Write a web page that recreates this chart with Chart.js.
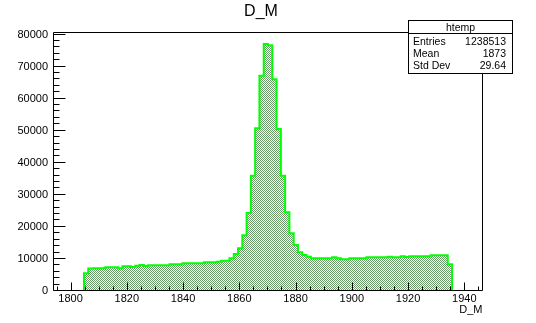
<!DOCTYPE html>
<html>
<head>
<meta charset="utf-8">
<script src="https://cdn.jsdelivr.net/npm/chart.js@4/dist/chart.umd.min.js"></script>
<style>
    html, body { margin: 0; padding: 0; background: #ffffff; }
    canvas { display: block; }
</style>
</head>
<body>
<canvas id="grafico" width="536" height="323"></canvas>
<script>
// histogram range (100 bins)
var xMin = 1794.1;
var xMax = 1946.3;
var yMax = 80470;

// bin contents
var conteos = [
    0, 0, 0, 0, 0, 0, 0, 5200, 6700, 6760,
    6800, 6800, 7070, 7070, 7070, 6760, 7380, 7380, 7170, 7590,
    7800, 7490, 7690, 7690, 7700, 7690, 7700, 8000, 8000, 8010,
    8320, 8320, 8330, 8320, 8330, 8630, 8630, 8640, 8840, 9150,
    9150, 9880, 11200, 13000, 17100, 24000, 35660, 50440, 66860, 76730,
    76310, 65710, 50220, 35660, 24230, 17680, 14040, 11750, 10920, 10400,
    9880, 9880, 9890, 9880, 9880, 10190, 9880, 9570, 9570, 9880,
    9880, 9890, 9880, 10190, 10190, 10200, 10190, 10190, 10400, 10190,
    10190, 10500, 10290, 10500, 10500, 10510, 10500, 10500, 10810, 10810,
    10820, 10810, 8010, 0, 0, 0, 0, 0, 0, 0
];

var ticksX = [1800, 1820, 1840, 1860, 1880, 1900, 1920, 1940];
var ticksY = [0, 10000, 20000, 30000, 40000, 50000, 60000, 70000, 80000];

var titulo = 'D_M';
var tituloEjeX = 'D_M';
var nombreHist = 'htemp';
var statNombres = ['Entries', 'Mean', 'Std Dev'];
var statValores = ['1238513', '1873', '29.64'];

var fuente = '"Liberation Sans", Arial, sans-serif';

function puntosHistograma() {
    var ancho = (xMax - xMin) / conteos.length;
    var primero = -1, ultimo = -1;
    for (var i = 0; i < conteos.length; i++) {
        if (conteos[i] > 0) {
            if (primero < 0) primero = i;
            ultimo = i;
        }
    }
    var pts = [{x: xMin + primero * ancho, y: 0}];
    for (var j = primero; j <= ultimo; j++) {
        pts.push({x: xMin + j * ancho, y: conteos[j]});
    }
    pts.push({x: xMin + (ultimo + 1) * ancho, y: conteos[ultimo]});
    pts.push({x: xMin + (ultimo + 1) * ancho, y: 0});
    return pts;
}

// 1px checker like ROOT fill style 3001
function patronRelleno(ctx) {
    var pc = document.createElement('canvas');
    pc.width = 2;
    pc.height = 2;
    var p = pc.getContext('2d');
    p.fillStyle = '#ffffff';
    p.fillRect(0, 0, 2, 2);
    p.fillStyle = '#6a9a6a';
    p.fillRect(0, 0, 1, 1);
    p.fillRect(1, 1, 1, 1);
    return ctx.createPattern(pc, 'repeat');
}

var fondoBlanco = {
    id: 'fondoBlanco',
    beforeDraw: function (chart) {
        var ctx = chart.ctx;
        ctx.save();
        ctx.fillStyle = '#ffffff';
        ctx.fillRect(0, 0, chart.width, chart.height);
        ctx.restore();
    }
};

// ROOT-like frame, inward ticks, labels, title and stats box
var ejesRoot = {
    id: 'ejesRoot',
    afterDraw: function (chart) {
        var ctx = chart.ctx;
        var ca = chart.chartArea;
        var sx = chart.scales.x;
        var sy = chart.scales.y;
        var izq = Math.round(ca.left) - 0.5;
        var der = Math.round(ca.right) + 0.5;
        var arr = Math.round(ca.top) + 0.5;
        var aba = Math.round(ca.bottom) + 0.5;

        ctx.save();
        ctx.strokeStyle = '#000000';
        ctx.lineWidth = 1;
        ctx.beginPath();
        ctx.moveTo(izq, arr);
        ctx.lineTo(der, arr);
        ctx.lineTo(der, aba);
        ctx.lineTo(izq, aba);
        ctx.closePath();
        ctx.stroke();

        // y ticks: 5 divisions per major
        var pasoY = (ticksY[1] - ticksY[0]) / 5;
        ctx.beginPath();
        for (var v = ticksY[0]; v <= yMax; v += pasoY) {
            var y = Math.round(sy.getPixelForValue(v)) + 0.5;
            var esMayor = ticksY.indexOf(v) >= 0;
            ctx.moveTo(izq, y);
            ctx.lineTo(izq + (esMayor ? 12 : 6), y);
        }
        // x ticks: 4 divisions per major
        var pasoX = (ticksX[1] - ticksX[0]) / 4;
        for (var w = ticksX[0] - pasoX; w <= xMax; w += pasoX) {
            if (w < xMin) continue;
            var x = Math.round(sx.getPixelForValue(w)) + 0.5;
            var mayor = ticksX.indexOf(w) >= 0;
            ctx.moveTo(x, aba);
            ctx.lineTo(x, aba - (mayor ? 8 : 4));
        }
        ctx.stroke();

        ctx.fillStyle = '#000000';
        ctx.font = '11px ' + fuente;
        ctx.textAlign = 'right';
        ctx.textBaseline = 'middle';
        ticksY.forEach(function (t) {
            ctx.fillText(String(t), 48, sy.getPixelForValue(t) + 1);
        });
        ctx.textAlign = 'center';
        ctx.textBaseline = 'alphabetic';
        ticksX.forEach(function (t) {
            ctx.fillText(String(t), sx.getPixelForValue(t), 302);
        });
        ctx.textAlign = 'right';
        ctx.fillText(tituloEjeX, der, 313);

        ctx.font = '16px ' + fuente;
        ctx.textAlign = 'center';
        ctx.fillText(titulo, 261, 16);

        // stats box
        ctx.fillStyle = '#ffffff';
        ctx.fillRect(408.5, 20.5, 104, 53);
        ctx.strokeRect(408.5, 20.5, 104, 53);
        ctx.beginPath();
        ctx.moveTo(408.5, 33.5);
        ctx.lineTo(512.5, 33.5);
        ctx.stroke();
        ctx.fillStyle = '#000000';
        ctx.font = '10.5px ' + fuente;
        ctx.textAlign = 'center';
        ctx.fillText(nombreHist, 460.5, 30.5);
        for (var k = 0; k < statNombres.length; k++) {
            var base = 45 + k * 12;
            ctx.textAlign = 'left';
            ctx.fillText(statNombres[k], 413, base);
            ctx.textAlign = 'right';
            ctx.fillText(statValores[k], 506, base);
        }
        ctx.restore();
    }
};

function graficoHistograma() {
    var canvas = document.getElementById('grafico');
    var ctx = canvas.getContext('2d');
    var config = {
        type: 'line',
        data: {
            datasets: [{
                label: nombreHist,
                data: puntosHistograma(),
                stepped: true,
                fill: 'origin',
                backgroundColor: patronRelleno(ctx),
                borderColor: '#00ff00',
                borderWidth: 2,
                pointRadius: 0,
                tension: 0
            }]
        },
        options: {
            responsive: false,
            animation: false,
            devicePixelRatio: 1,
            layout: {
                padding: {left: 54, right: 54, top: 32, bottom: 33}
            },
            plugins: {
                legend: {display: false},
                tooltip: {enabled: false},
                title: {display: false}
            },
            scales: {
                x: {type: 'linear', min: xMin, max: xMax, display: false},
                y: {type: 'linear', min: 0, max: yMax, display: false}
            }
        },
        plugins: [fondoBlanco, ejesRoot]
    };
    window.miHistograma = new Chart(ctx, config);
}

graficoHistograma();
</script>
</body>
</html>
